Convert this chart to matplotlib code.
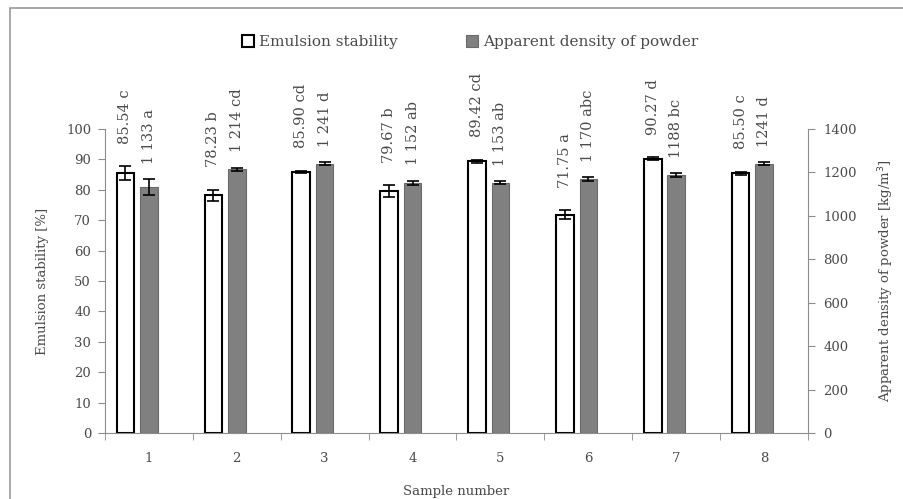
import numpy as np
import matplotlib
matplotlib.use("Agg")
import matplotlib.pyplot as plt
from matplotlib.patches import Rectangle

# data
samples = ["1", "2", "3", "4", "5", "6", "7", "8"]
stability = [85.54, 78.23, 85.90, 79.67, 89.42, 71.75, 90.27, 85.50]
stability_err = [2.2, 1.8, 0.4, 1.9, 0.5, 1.5, 0.4, 0.5]
stability_lbl = ["85.54 c", "78.23 b", "85.90 cd", "79.67 b",
                 "89.42 cd", "71.75 a", "90.27 d", "85.50 c"]
density = [1133, 1214, 1241, 1152, 1153, 1170, 1188, 1241]
density_err = [35, 8, 8, 10, 6, 8, 10, 8]
density_lbl = ["1 133 a", "1 214 cd", "1 241 d", "1 152 ab",
               "1 153 ab", "1 170 abc", "1188 bc", "1241 d"]

plt.rcParams['font.family'] = ['DejaVu Serif']
txt = '#4a4a4a'
axc = '#8c8c8c'
fs = 9.5

fig = plt.figure(figsize=(9.04, 4.99), dpi=100)
fig.patches.append(Rectangle((10/904, -0.1), 1.2, 1 - 8/499 + 0.1,
                             transform=fig.transFigure, fill=False,
                             edgecolor='#999999', lw=1.2))
ax = fig.add_axes([105/904, 1 - 433/499, 703/904, 304/499])
ax2 = ax.twinx()

x = np.arange(len(samples))
w = 0.2
xw = x - 0.267
xg = x

ax.bar(xw, stability, w, color='white', edgecolor='black', lw=1.5,
       yerr=stability_err, error_kw=dict(ecolor='black', capsize=4, lw=1.2, capthick=1.2))
ax2.bar(xg, density, w, color='#808080', edgecolor='#6a6a6a', lw=0.8,
        yerr=density_err, error_kw=dict(ecolor='black', capsize=4, lw=1.2, capthick=1.2))

for i in range(len(samples)):
    ax.annotate(stability_lbl[i], (xw[i], stability[i] + stability_err[i]),
                xytext=(0, 16), textcoords='offset points', rotation=90,
                ha='center', va='bottom', fontsize=10.5, color=txt)
    ax2.annotate(density_lbl[i], (xg[i], density[i] + density_err[i]),
                 xytext=(0, 11), textcoords='offset points', rotation=90,
                 ha='center', va='bottom', fontsize=10.5, color=txt)

ax.set_xlim(-0.5, 7.5)
ax.set_ylim(0, 100)
ax2.set_ylim(0, 1400)
ax.set_yticks(np.arange(0, 101, 10))
ax2.set_yticks(np.arange(0, 1401, 200))
ax.set_xticks(x)
ax.set_xticklabels(samples)
ax.set_xticks(np.arange(-0.5, 8, 1), minor=True)
ax.tick_params(axis='x', which='major', length=0, pad=14, labelsize=fs, labelcolor=txt)
ax.tick_params(axis='x', which='minor', length=5, color=axc, direction='out')
ax.tick_params(axis='y', length=5, color=axc, labelsize=fs, labelcolor=txt, pad=5)
ax2.tick_params(axis='y', length=5, color=axc, labelsize=fs, labelcolor=txt, pad=6)

for a in (ax, ax2):
    a.spines['top'].set_visible(False)
    for s in ('left', 'right', 'bottom'):
        a.spines[s].set_color(axc)
ax.spines['right'].set_visible(False)
ax2.spines['left'].set_visible(False)
ax2.spines['bottom'].set_visible(False)

ax.set_ylabel("Emulsion stability [%]", fontsize=fs, color=txt, labelpad=12)
ax2.set_ylabel("Apparent density of powder [kg/m$^3$]", fontsize=fs, color=txt, labelpad=14)
ax.set_xlabel("Sample number", fontsize=fs, color=txt, labelpad=14)

# legend handles
h1 = Rectangle((0, 0), 1, 1, facecolor='white', edgecolor='black', lw=1.5)
h2 = Rectangle((0, 0), 1, 1, facecolor='#808080', edgecolor='#6a6a6a', lw=0.8)
fig.legend([h1, h2], ["Emulsion stability", "Apparent density of powder"],
           loc='center', bbox_to_anchor=(470/904, 1 - 42/499), ncol=2,
           frameon=False, fontsize=11, handlelength=0.8, handleheight=0.8,
           handletextpad=0.3, columnspacing=4.5, labelcolor=txt)

fig.savefig("out.png", dpi=100)
